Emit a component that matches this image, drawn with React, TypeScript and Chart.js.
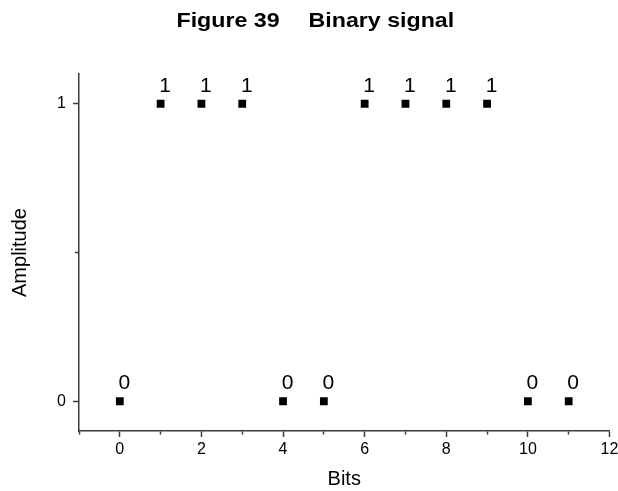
import React, { useEffect, useRef } from "react";
import { Chart, registerables } from "chart.js";

Chart.register(...registerables);

const titleLeft = "Figure 39";
const titleRight = "Binary signal";
const xTitle = "Bits";
const yTitle = "Amplitude";
const bits = [0, 1, 2, 3, 4, 5, 6, 7, 8, 9, 10, 11];
const amplitude = [0, 1, 1, 1, 0, 0, 1, 1, 1, 1, 0, 0];
const xTickValues = [-1, 0, 1, 2, 3, 4, 5, 6, 7, 8, 9, 10, 11, 12];
const xLabeledTicks = [0, 2, 4, 6, 8, 10, 12];
const yTickValues = [0, 0.5, 1];
const yLabeledTicks = [0, 1];

const FONT = '"Liberation Sans", Arial, sans-serif';
const AXIS_COLOR = "#3a3a3a";

const pointLabelPlugin = {
  id: "pointLabels",
  afterDatasetsDraw(chart: any) {
    const ctx = chart.ctx;
    const meta = chart.getDatasetMeta(0);
    ctx.save();
    ctx.font = `21px ${FONT}`;
    ctx.fillStyle = "#000";
    ctx.textAlign = "center";
    ctx.textBaseline = "alphabetic";
    meta.data.forEach((el: any, i: number) => {
      ctx.fillText(String(amplitude[i]), el.x + 4.5, el.y - 12);
    });
    ctx.restore();
  },
};

const titlePlugin = {
  id: "customTitle",
  afterDraw(chart: any) {
    const ctx = chart.ctx;
    const drawPart = (text: string, x: number) => {
      ctx.save();
      ctx.font = `bold 19.5px ${FONT}`;
      ctx.fillStyle = "#000";
      ctx.textAlign = "left";
      ctx.textBaseline = "alphabetic";
      ctx.translate(x, 27.3);
      ctx.scale(1.19, 1);
      ctx.fillText(text, 0, 0);
      ctx.restore();
    };
    drawPart(titleLeft, 176.5);
    drawPart(titleRight, 308.5);
  },
};

export default function App() {
  const ref = useRef<HTMLCanvasElement | null>(null);

  useEffect(() => {
    document.body.style.margin = "0";
    const canvas = ref.current;
    if (!canvas) return;
    const chart = new Chart(canvas, {
      type: "scatter",
      data: {
        datasets: [
          {
            data: bits.map((b, i) => ({ x: b, y: amplitude[i] })),
            pointStyle: "rect",
            pointRadius: 5.5,
            pointHoverRadius: 5.5,
            backgroundColor: "#000",
            borderColor: "#000",
            borderWidth: 0,
            showLine: false,
          },
        ],
      },
      options: {
        responsive: false,
        animation: false,
        events: [],
        layout: { padding: { top: 74, right: 8.5, left: 0, bottom: 0 } },
        plugins: {
          legend: { display: false },
          tooltip: { enabled: false },
          title: { display: false },
        },
        scales: {
          x: {
            type: "linear",
            position: "bottom",
            min: -1,
            max: 12,
            afterBuildTicks: (scale: any) => {
              scale.ticks = xTickValues.map((v) => ({ value: v }));
            },
            afterFit: (scale: any) => {
              scale.height = 60;
              scale.paddingLeft = 0;
              scale.paddingRight = 0;
            },
            border: { display: true, color: AXIS_COLOR, width: 1.5 },
            grid: {
              drawOnChartArea: false,
              drawTicks: true,
              tickLength: 6,
              tickColor: AXIS_COLOR,
              tickWidth: 1.5,
              tickBorderDash: (c: any) =>
                xLabeledTicks.includes(c.tick?.value) ? [] : [3, 100],
            },
            ticks: {
              autoSkip: false,
              maxRotation: 0,
              padding: 3,
              color: "#000",
              font: { family: FONT, size: 16 },
              callback: (v: any) => (xLabeledTicks.includes(Number(v)) ? String(v) : ""),
            },
            title: {
              display: true,
              text: xTitle,
              color: "#000",
              font: { family: FONT, size: 20 },
              padding: { top: 0, bottom: 0 },
            },
          },
          y: {
            type: "linear",
            position: "left",
            min: -0.1,
            max: 1.1,
            afterBuildTicks: (scale: any) => {
              scale.ticks = yTickValues.map((v) => ({ value: v }));
            },
            afterFit: (scale: any) => {
              scale.width = 79;
              scale.paddingTop = 0;
              scale.paddingBottom = 0;
            },
            border: { display: true, color: AXIS_COLOR, width: 1.5 },
            grid: {
              drawOnChartArea: false,
              drawTicks: true,
              tickLength: 6,
              tickColor: AXIS_COLOR,
              tickWidth: 1.5,
              tickBorderDash: (c: any) =>
                yLabeledTicks.includes(c.tick?.value) ? [] : [4, 100],
              tickBorderDashOffset: (c: any) =>
                yLabeledTicks.includes(c.tick?.value) ? 0 : -2,
            },
            ticks: {
              autoSkip: false,
              padding: 7,
              color: "#000",
              font: { family: FONT, size: 16 },
              callback: (v: any) => (yLabeledTicks.includes(Number(v)) ? String(v) : ""),
            },
            title: {
              display: true,
              text: yTitle,
              color: "#000",
              font: { family: FONT, size: 20 },
              padding: { top: 8, bottom: 0 },
            },
          },
        },
      },
      plugins: [pointLabelPlugin, titlePlugin],
    } as any);
    return () => chart.destroy();
  }, []);

  return <canvas ref={ref} width={618} height={491} style={{ display: "block" }} />;
}
